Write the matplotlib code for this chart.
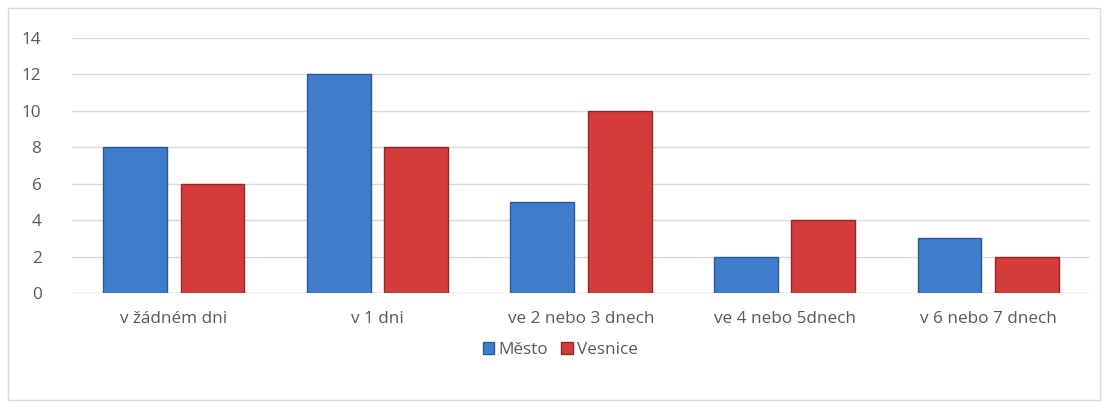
import numpy as np
import matplotlib.pyplot as plt
from matplotlib.patches import Rectangle

kategorie = ['v žádném dni', 'v 1 dni', 've 2 nebo 3 dnech', 've 4 nebo 5dnech', 'v 6 nebo 7 dnech']
mesto = [8, 12, 5, 2, 3]
vesnice = [6, 8, 10, 4, 2]

plt.rcParams['font.family'] = ['Open Sans', 'DejaVu Sans']

fig = plt.figure(figsize=(11.08, 4.08), dpi=100)
# light frame round the whole chart
fig.patches.append(Rectangle((8/1108, 8/408), 1092/1108, 392/408, transform=fig.transFigure,
                             fill=False, edgecolor='#d9d9d9', linewidth=1))
ax = fig.add_axes([72/1108, 1-293/408, 1018/1108, 255/408])

x = np.arange(len(kategorie))
w = 0.314
off = 0.19
b1 = ax.bar(x - off, mesto, w, color='#3f7dcb', edgecolor='#2a5a96', linewidth=1, label='Město', zorder=3)
b2 = ax.bar(x + off, vesnice, w, color='#d43c3c', edgecolor='#962626', linewidth=1, label='Vesnice', zorder=3)

ax.set_xlim(-0.5, len(kategorie) - 0.5)
ax.set_ylim(0, 14)
ax.set_yticks(range(0, 15, 2))
ax.set_xticks(x)
ax.set_xticklabels(kategorie)
ax.grid(axis='y', color='#d9d9d9', linewidth=1, zorder=0)
for s in ax.spines.values():
    s.set_visible(False)
ax.axhline(0, color='#d9d9d9', linewidth=1, zorder=1)
ax.tick_params(axis='both', length=0, labelsize=12.3, colors='#595959')
ax.tick_params(axis='x', pad=13)
ax.tick_params(axis='y', pad=22)

leg = fig.legend(handles=[b1, b2], loc='center', bbox_to_anchor=(560/1108, 1-350/408), ncol=2,
                 frameon=False, fontsize=12.3, handlelength=0.7, handleheight=0.7,
                 handletextpad=0.2, columnspacing=0.8)
for t in leg.get_texts():
    t.set_color('#595959')

fig.savefig('out.png', dpi=100)
